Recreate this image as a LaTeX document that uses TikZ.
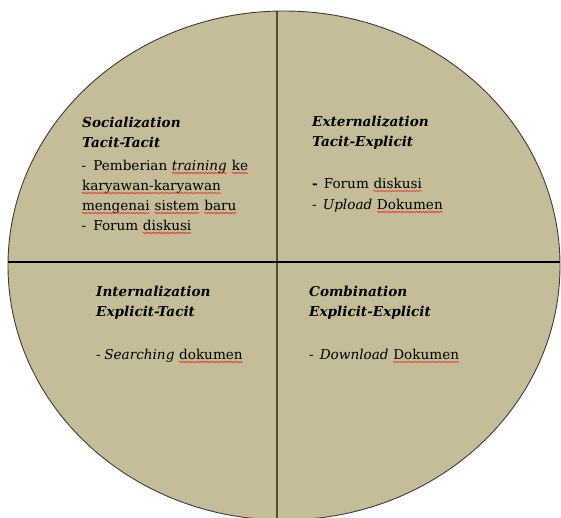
\documentclass[tikz,border=0pt]{standalone}
\usepackage{fontspec}
\setmainfont{DejaVu Serif}
\usetikzlibrary{decorations.pathmorphing}
\definecolor{tanfill}{HTML}{C4BD97}
\definecolor{edgegray}{HTML}{3C3C3C}
\definecolor{vline}{HTML}{4F4B3D}
\definecolor{spellred}{HTML}{E8342F}
\newcommand\wv[1]{\tikz[baseline=(wvw.base)]{\node[inner sep=0pt,outer sep=0pt] (wvw) {#1};\draw[spellred,line width=0.65pt,decorate,decoration={snake,amplitude=0.75pt,segment length=3pt}] ([yshift=-3pt]wvw.base west) -- ([yshift=-3pt]wvw.base east);}}
\begin{document}
\begin{tikzpicture}[x=1pt,y=-1pt,
  txt/.style={anchor=base west,inner sep=0pt,font=\fontsize{13.6}{16}\selectfont,text=black},
  hd/.style={txt,font=\fontsize{13.6}{16}\selectfont\bfseries\itshape}]
\useasboundingbox (0,0) rectangle (561,517);
\begin{scope}
  \clip (0,0) rectangle (561,517);
  \fill[tanfill] (284,265.5) ellipse [x radius=276, y radius=254.5];
  \begin{scope}
    \clip (284,265.5) ellipse [x radius=276, y radius=254.5];
    \draw[vline,line width=1.4pt] (277,0) -- (277,530);
    \draw[black,line width=1.2pt] (0,262) -- (570,262);
  \end{scope}
  \draw[edgegray,line width=0.9pt] (284,265.5) ellipse [x radius=276, y radius=254.5];
\end{scope}
% Socialization
\node[hd] (s1) at (82,127) {Socialization};
\node[hd] (s2) at (82,147) {Tacit-Tacit};
\node[txt] (s3) at (81.5,170) {-\hspace{7pt}Pemberian \wv{\textit{training}} \wv{ke}};
\node[txt] (s4) at (81.5,190) {\wv{karyawan-karyawan}};
\node[txt] (s5) at (81.5,210) {\wv{mengenai} \wv{sistem} \wv{baru}};
\node[txt] (s6) at (81.5,230) {-\hspace{7pt}Forum \wv{diskusi}};
% Externalization
\node[hd] (e1) at (312,126) {Externalization};
\node[hd] (e2) at (312,146) {Tacit-Explicit};
\node[txt] (e3) at (312,188) {\textbf{-}\hspace{6pt}Forum \wv{diskusi}};
\node[txt] (e4) at (312,209) {-\hspace{6pt}\textit{Upload} \wv{Dokumen}};
% Internalization
\node[hd] (i1) at (96,296.5) {Internalization};
\node[hd] (i2) at (96,316.5) {Explicit-Tacit};
\node[txt] (i3) at (96,359) {-\hspace{3.5pt}\textit{Searching} \wv{dokumen}};
% Combination
\node[hd] (c1) at (309,296.5) {Combination};
\node[hd] (c2) at (309,316.5) {Explicit-Explicit};
\node[txt] (c3) at (309,359) {-\hspace{6pt}\textit{Download} \wv{Dokumen}};
\end{tikzpicture}
\end{document}
